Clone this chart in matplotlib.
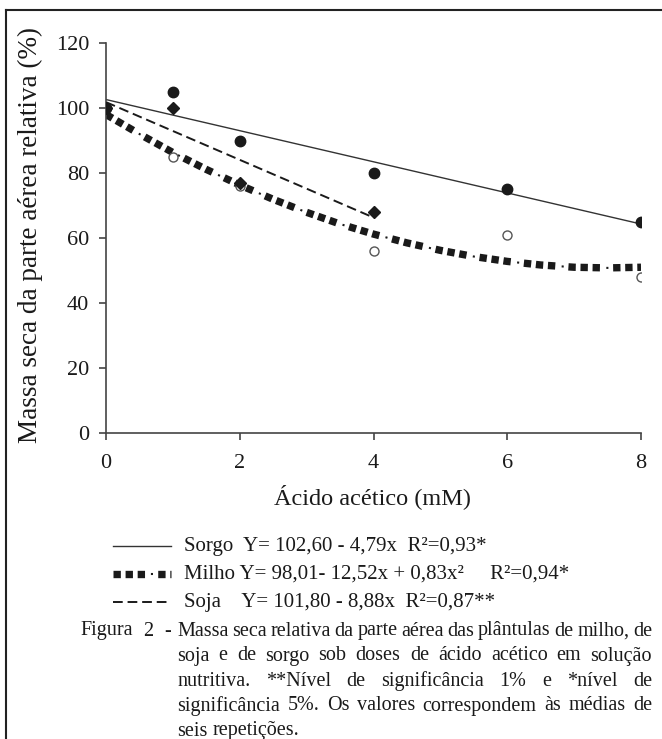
import numpy as np
import matplotlib
matplotlib.use("Agg")
import matplotlib.pyplot as plt
from matplotlib.lines import Line2D

plt.rcParams['font.family'] = ['Liberation Serif', 'DejaVu Serif']
plt.rcParams['lines.scale_dashes'] = False

# observed means (relative shoot dry mass, %)
dose_sorgo = [0, 1, 2, 4, 6, 8]
sorgo = [100, 105, 90, 80, 75, 65]
dose_milho = [0, 1, 2, 4, 6, 8]
milho = [100, 85, 76, 56, 61, 48]
dose_soja = [0, 1, 2, 4]
soja = [100, 100, 77, 68]

# fitted lines
fit_sorgo_x = [0, 8]
fit_sorgo_y = [102.6, 64.3]
fit_soja_x = [0, 4]
fit_soja_y = [101.8, 66.3]
fit_milho_x = [0, 0.5, 1, 1.5, 2, 2.5, 3, 3.5, 4, 4.5, 5, 5.5, 6, 6.5, 7, 7.5, 8]
fit_milho_y = [98.0, 92.0, 86.3, 81.1, 76.3, 71.9, 67.9, 64.3, 61.2, 58.5, 56.2,
               54.3, 52.8, 51.7, 51.0, 50.8, 51.0]

lab_sorgo = 'Sorgo  Y= 102,60 - 4,79x  R²=0,93*'
lab_milho = 'Milho Y= 98,01- 12,52x + 0,83x²     R²=0,94*'
lab_soja = 'Soja    Y= 101,80 - 8,88x  R²=0,87**'

W, H = 662, 739
fig = plt.figure(figsize=(W / 100, H / 100), dpi=100)
ax = fig.add_axes([106 / W, 1 - 433 / H, (641 - 106) / W, (433 - 43) / H])

ink = '#1a1a1a'
axc = '#444444'

# line styles
sorgo_style = dict(color='#333333', lw=1.0)
soja_style = dict(color=ink, lw=1.4, linestyle=(0, (7, 3.5)))
# milho curve: thick squares in groups of three with a small dot between
sq_style = dict(color=ink, lw=5.3, linestyle=(0, (5.3, 3.4, 5.3, 3.4, 5.3, 9.5)),
                dash_capstyle='butt')
dot_style = dict(color=ink, lw=1.5, linestyle=(4.9, (1.5, 30.7)), dash_capstyle='butt')

ax.plot(fit_milho_x, fit_milho_y, zorder=2, **sq_style)
ax.plot(fit_milho_x, fit_milho_y, zorder=2, **dot_style)
ax.plot(fit_sorgo_x, fit_sorgo_y, zorder=2, **sorgo_style)
ax.plot(fit_soja_x, fit_soja_y, zorder=2, **soja_style)

ax.plot(dose_milho, milho, 'o', ms=6.5, mfc='white', mec='#555555', mew=1.0, zorder=3)
ax.plot(dose_soja, soja, 'D', ms=6.5, color=ink, zorder=4)
ax.plot(dose_sorgo, sorgo, 'o', ms=7.5, color=ink, zorder=4)

ax.set_xlim(0, 8)
ax.set_ylim(0, 120)
ax.set_xticks([0, 2, 4, 6, 8])
ax.set_yticks(np.arange(0, 121, 20))
for s in ['top', 'right']:
    ax.spines[s].set_visible(False)
for s in ['left', 'bottom']:
    ax.spines[s].set_color(axc)
    ax.spines[s].set_linewidth(1.2)
ax.tick_params(direction='out', length=5, width=1.2, color=axc,
               labelsize=16, labelcolor=ink, pad=7)
ax.tick_params(axis='x', pad=10)

ax.set_ylabel('Massa seca da parte aérea relativa (%)', fontsize=19.5, color=ink, va='center')
ax.yaxis.set_label_coords((30 - 106) / 535, (433 - 235) / 390)
ax.set_xlabel('Ácido acético (mM)', fontsize=17.5, color=ink, va='center')
ax.xaxis.set_label_coords((372 - 106) / 535, (433 - 497) / 390)

# legend below the axes, drawn by hand
leg_rows = [(lab_sorgo, [sorgo_style]), (lab_milho, [sq_style, dot_style]),
            (lab_soja, [soja_style])]
for i, (lab, styles) in enumerate(leg_rows):
    y = 1 - (546 + 28 * i) / H
    for st in styles:
        fig.add_artist(Line2D([113 / W, 171 / W], [y, y], **st))
    fig.text(184 / W, y, lab, fontsize=15, color=ink, va='center')

# caption, justified with a hanging indent
cap_size = 14.5
renderer = fig.canvas.get_renderer()


def justify(words, x0, x1, y, stretch=True):
    texts = [fig.text(0, y, w, fontsize=cap_size, color=ink, va='center') for w in words]
    widths = [t.get_window_extent(renderer).width for t in texts]
    if stretch and len(words) > 1:
        gap = (x1 - x0 - sum(widths)) / (len(words) - 1)
    else:
        gap = renderer.points_to_pixels(cap_size) * 0.25
    x = x0
    for t, w in zip(texts, widths):
        t.set_x(x / W)
        x += w + gap


cap_lines = [
    'Massa seca relativa da parte aérea das plântulas de milho, de',
    'soja e de sorgo sob doses de ácido acético em solução',
    'nutritiva. **Nível de significância 1% e *nível de',
    'significância 5%. Os valores correspondem às médias de',
    'seis repetições.',
]
y0, dy = 631, 25
justify(['Figura', '2', '-'], 80, 171, 1 - y0 / H)
for i, line in enumerate(cap_lines):
    y = 1 - (y0 + dy * i) / H
    justify(line.split(' '), 177, 652, y, stretch=i < len(cap_lines) - 1)

# frame lines of the scanned figure
fig.add_artist(Line2D([6 / W, 1], [1 - 10 / H, 1 - 10 / H], color='#222222', lw=1.5))
fig.add_artist(Line2D([6 / W, 6 / W], [0, 1 - 10 / H], color='#222222', lw=1.5))

fig.savefig('out.png', dpi=100)
